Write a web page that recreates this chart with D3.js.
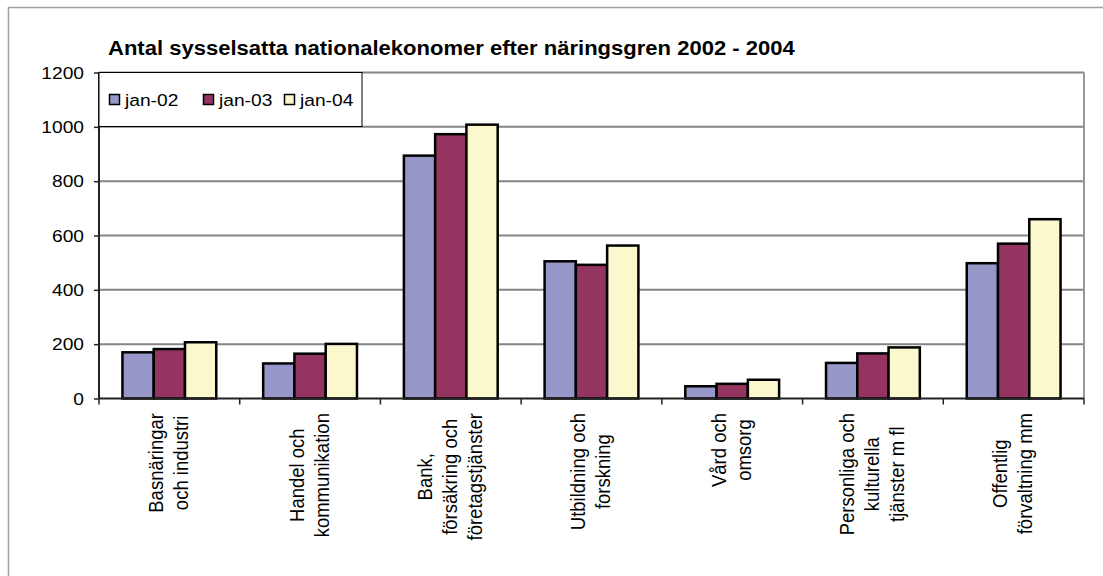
<!DOCTYPE html>
<html>
<head>
<meta charset="utf-8">
<script src="https://cdn.jsdelivr.net/npm/d3@7"></script>
<style>
  body { margin: 0; background: #fff; }
  text { font-family: Arial, "Liberation Sans", sans-serif; fill: #000; }
</style>
</head>
<body>
<div id="chart"></div>
<script>
// data
var categories = [
    ['Basnäringar', 'och industri'],
    ['Handel och', 'kommunikation'],
    ['Bank,', 'försäkring och', 'företagstjänster'],
    ['Utbildning och', 'forskning'],
    ['Vård och', 'omsorg'],
    ['Personliga och', 'kulturella', 'tjänster m fl'],
    ['Offentlig', 'förvaltning mm']
];
var series = ['jan-02', 'jan-03', 'jan-04'];
var jan02 = [170, 129, 894, 505, 45, 131, 498];
var jan03 = [182, 165, 973, 492, 54, 166, 570];
var jan04 = [207, 201, 1008, 563, 69, 188, 660];
var yTicks = [0, 200, 400, 600, 800, 1000, 1200];
var colors = ['#9696c8', '#943460', '#faf8cc'];
var title = 'Antal sysselsatta nationalekonomer efter näringsgren 2002 - 2004';

var values = [jan02, jan03, jan04];
var width = 1103, height = 576,
    plotLeft = 99, plotRight = 1084, plotTop = 72.5, plotBottom = 398.5,
    sx = 1.13; // the reference is stretched sideways

var svg = d3.select('#chart').append('svg')
    .attr('width', width)
    .attr('height', height);

// chart border (only left and top are visible)
svg.append('rect')
    .attr('x', 8.5).attr('y', 7.5)
    .attr('width', width + 20).attr('height', height + 20)
    .attr('fill', 'none')
    .attr('stroke', '#a0a0a0')
    .attr('stroke-width', 1.5);

var x0 = d3.scaleBand()
    .domain(d3.range(categories.length))
    .range([plotLeft, plotRight]);
var x1 = d3.scaleBand()
    .domain(series)
    .range([x0.bandwidth() / 6, x0.bandwidth() * 5 / 6]);
var y = d3.scaleLinear()
    .domain([0, 1200])
    .range([plotBottom, plotTop]);

// gridlines
svg.append('g').selectAll('line')
    .data(yTicks.slice(1))
    .enter().append('line')
    .attr('x1', plotLeft).attr('x2', plotRight)
    .attr('y1', function (d) { return y(d); })
    .attr('y2', function (d) { return y(d); })
    .attr('stroke', '#858585')
    .attr('stroke-width', 2);

// plot area right edge
svg.append('line')
    .attr('x1', plotRight).attr('x2', plotRight)
    .attr('y1', plotTop).attr('y2', plotBottom)
    .attr('stroke', '#999')
    .attr('stroke-width', 2);

// bars
var groups = svg.append('g').selectAll('g')
    .data(categories)
    .enter().append('g')
    .attr('transform', function (d, i) { return 'translate(' + x0(i) + ',0)'; });
groups.selectAll('rect')
    .data(function (d, i) {
        return series.map(function (s, j) { return { s: s, j: j, v: values[j][i] }; });
    })
    .enter().append('rect')
    .attr('x', function (d) { return x1(d.s); })
    .attr('y', function (d) { return y(d.v); })
    .attr('width', x1.bandwidth())
    .attr('height', function (d) { return y(0) - y(d.v); })
    .attr('fill', function (d) { return colors[d.j]; })
    .attr('stroke', '#000')
    .attr('stroke-width', 2.5);

// y axis
var yAxis = svg.append('g')
    .attr('transform', 'translate(' + plotLeft + ',0)')
    .call(d3.axisLeft(y).tickValues(yTicks).tickSize(5).tickFormat(''));
yAxis.select('.domain').attr('stroke', '#222').attr('stroke-width', 2)
    .attr('d', 'M0,' + plotTop + 'V' + plotBottom);
yAxis.selectAll('.tick line').attr('stroke', '#222').attr('stroke-width', 1.5);

svg.append('g').selectAll('text')
    .data(yTicks)
    .enter().append('text')
    .attr('transform', function (d) { return 'translate(84,' + (y(d) + 6) + ') scale(' + sx + ',1)'; })
    .attr('text-anchor', 'end')
    .style('font-size', '17px')
    .text(function (d) { return d; });

// x axis
var xAxis = svg.append('g')
    .attr('transform', 'translate(0,' + plotBottom + ')')
    .call(d3.axisBottom(x0).tickSize(0).tickFormat(''));
xAxis.select('.domain').attr('stroke', '#222').attr('stroke-width', 2)
    .attr('d', 'M' + plotLeft + ',0H' + plotRight);
xAxis.selectAll('.tick').remove();
xAxis.selectAll('.sep')
    .data(d3.range(categories.length + 1))
    .enter().append('line')
    .attr('x1', function (i) { return plotLeft + i * x0.step(); })
    .attr('x2', function (i) { return plotLeft + i * x0.step(); })
    .attr('y1', 0).attr('y2', 6)
    .attr('stroke', '#222')
    .attr('stroke-width', 1.5);

// category labels, rotated, lines centred in a block hanging from the top
var labelTop = 413, lineGap = 25;
categories.forEach(function (lines, i) {
    var cx = x0(i) + x0.bandwidth() / 2;
    var texts = lines.map(function (line, k) {
        var bx = cx + (k - (lines.length - 1) / 2) * lineGap + 6;
        return svg.append('text')
            .attr('text-anchor', 'middle')
            .style('font-size', '18.5px')
            .attr('data-x', bx)
            .text(line);
    });
    var maxLen = d3.max(texts, function (t) { return t.node().getComputedTextLength(); });
    texts.forEach(function (t) {
        t.attr('transform', 'translate(' + t.attr('data-x') + ',' + (labelTop + maxLen / 2) + ') scale(' + sx + ',1) rotate(-90)');
    });
});

// title
svg.append('text')
    .attr('transform', 'translate(108,55) scale(' + sx + ',1)')
    .style('font-size', '19.5px')
    .style('font-weight', 'bold')
    .text(title);

// legend
var legend = svg.append('g');
legend.append('rect')
    .attr('x', plotLeft).attr('y', 72.5)
    .attr('width', 263).attr('height', 54)
    .attr('fill', '#fff')
    .attr('stroke', '#000')
    .attr('stroke-width', 1);
var legendX = [109, 203, 284];
series.forEach(function (s, j) {
    legend.append('rect')
        .attr('x', legendX[j] + 0.5).attr('y', 94.5)
        .attr('width', 10).attr('height', 10)
        .attr('fill', colors[j])
        .attr('stroke', '#000')
        .attr('stroke-width', 1.5);
    legend.append('text')
        .attr('transform', 'translate(' + (legendX[j] + 16) + ',106) scale(' + sx + ',1)')
        .style('font-size', '17px')
        .text(s);
});
</script>
</body>
</html>
